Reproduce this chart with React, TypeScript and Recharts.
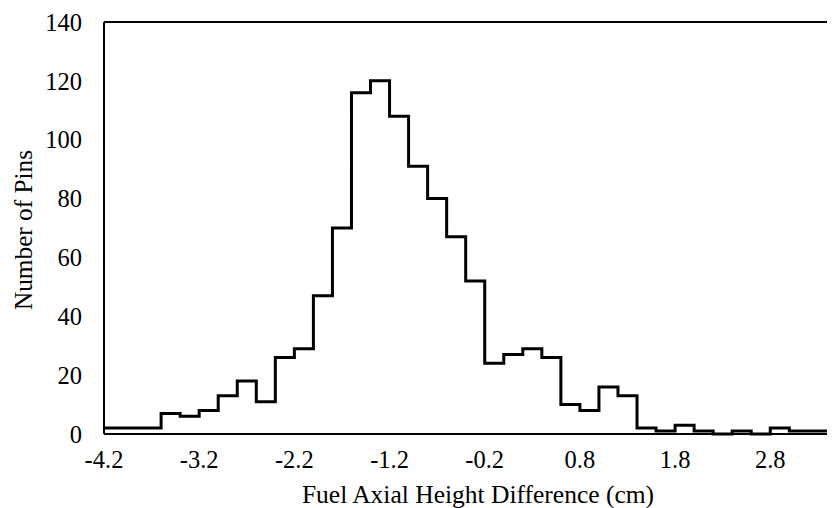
import React from 'react';
import { LineChart, Line, XAxis, YAxis, ReferenceLine, Label } from 'recharts';

// Bin start positions (cm) and pin counts per bin (histogram)
const binStarts = [
  -4.2, -4.0, -3.8, -3.6, -3.4, -3.2, -3.0, -2.8, -2.6, -2.4, -2.2, -2.0, -1.8,
  -1.6, -1.4, -1.2, -1.0, -0.8, -0.6, -0.4, -0.2, 0.0, 0.2, 0.4, 0.6, 0.8, 1.0,
  1.2, 1.4, 1.6, 1.8, 2.0, 2.2, 2.4, 2.6, 2.8, 3.0, 3.2, 3.4, 3.6,
];
const pinCounts = [
  2, 2, 2, 7, 6, 8, 13, 18, 11, 26, 29, 47, 70,
  116, 120, 108, 91, 80, 67, 52, 24, 27, 29, 26, 10, 8, 16,
  13, 2, 1, 3, 1, 0, 1, 0, 2, 1, 1, 1, 1,
];
const xTicks = [-4.2, -3.2, -2.2, -1.2, -0.2, 0.8, 1.8, 2.8];
const yTicks = [0, 20, 40, 60, 80, 100, 120, 140];

const data = binStarts.map((x, i) => ({ x, count: pinCounts[i] }));

const FONT = 'Liberation Serif, Times New Roman, DejaVu Serif, serif';
const TICK_SIZE = 24.5;
const tickStyle = { fill: '#000', fontSize: TICK_SIZE, fontFamily: FONT, style: { fontFamily: FONT, fontSize: TICK_SIZE } };

export default function App() {
  return (
    <div style={{ fontFamily: FONT }}>
      <LineChart
        width={827}
        height={500}
        data={data}
        margin={{ top: 14, right: 0, bottom: 0, left: 0 }}
        style={{ fontFamily: FONT }}
      >
        <XAxis
          type="number"
          dataKey="x"
          domain={[-4.2, 3.48]}
          allowDataOverflow
          ticks={xTicks}
          interval={0}
          tickLine={false}
          tickMargin={11}
          tick={tickStyle}
          fontSize={TICK_SIZE}
          tickFormatter={(v: number) => v.toFixed(1)}
          axisLine={{ stroke: '#000', strokeWidth: 2 }}
          height={74}
        >
          <Label
            content={() => (
              <text
                x={470}
                y={495}
                textAnchor="middle"
                fontSize={25.5}
                style={{ fontFamily: FONT }}
                fill="#000"
              >
                Fuel Axial Height Difference (cm)
              </text>
            )}
          />
        </XAxis>
        <YAxis
          type="number"
          domain={[0, 140]}
          ticks={yTicks}
          interval={0}
          tickLine={false}
          tickMargin={16}
          tick={tickStyle}
          fontSize={TICK_SIZE}
          axisLine={{ stroke: '#000', strokeWidth: 2 }}
          width={96}
        >
          <Label
            content={() => (
              <text
                x={15}
                y={222}
                textAnchor="middle"
                dominantBaseline="central"
                transform="rotate(-90, 15, 222)"
                fontSize={25.3}
                style={{ fontFamily: FONT }}
                fill="#000"
              >
                Number of Pins
              </text>
            )}
          />
        </YAxis>
        <ReferenceLine y={140} stroke="#000" strokeWidth={2} ifOverflow="extendDomain" />
        <Line
          type="stepAfter"
          dataKey="count"
          stroke="#000"
          strokeWidth={3}
          dot={false}
          activeDot={false}
          isAnimationActive={false}
        />
      </LineChart>
    </div>
  );
}
